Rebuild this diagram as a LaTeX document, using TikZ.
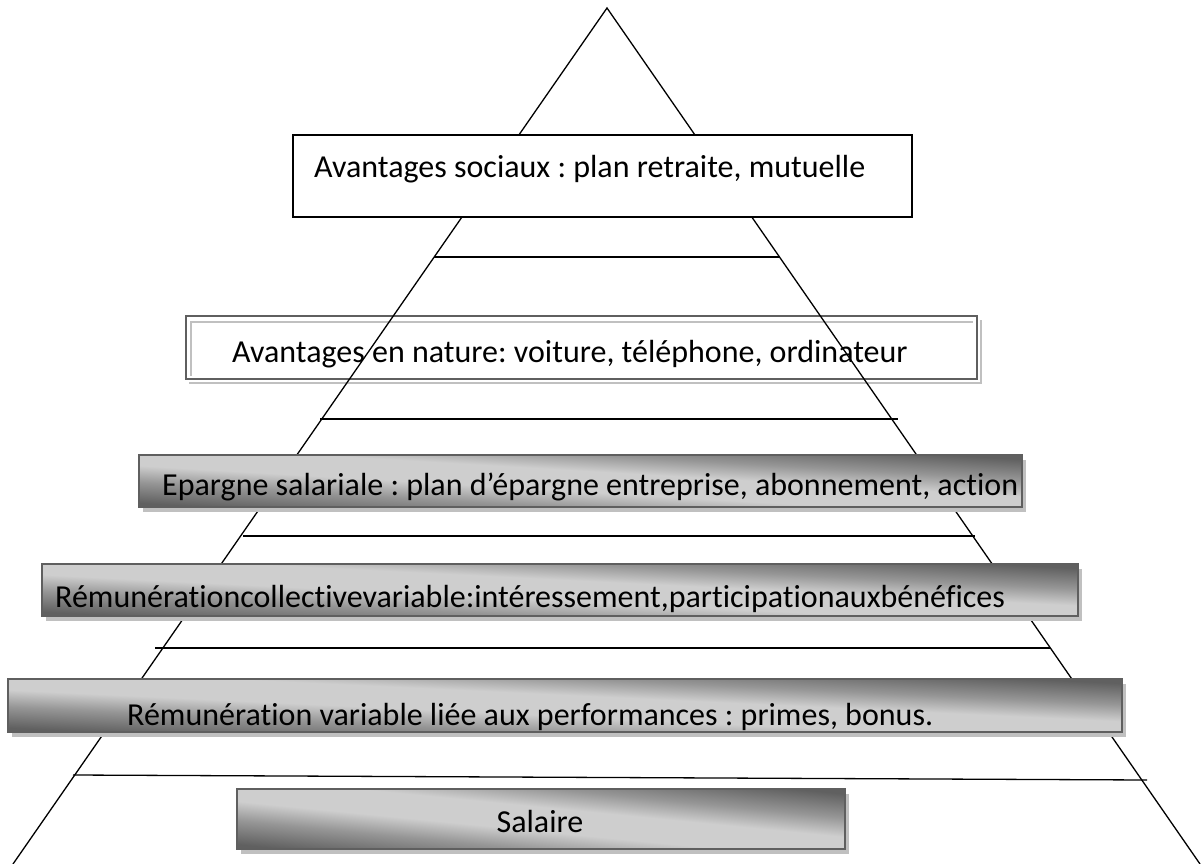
\documentclass[tikz,border=0pt]{standalone}
\usepackage{fontspec}
\setmainfont{Carlito}[Ligatures=NoCommon]
\definecolor{gdark}{RGB}{96,96,96}
\definecolor{gmid}{RGB}{150,150,150}
\definecolor{glight}{RGB}{206,206,206}
\definecolor{gedge}{RGB}{95,95,95}
\definecolor{gshade}{RGB}{192,192,192}
\pgfdeclareverticalshading{vgrad}{100bp}{color(0bp)=(gdark); color(27bp)=(gdark); color(37bp)=(gmid); color(45bp)=(glight); color(55bp)=(glight); color(63bp)=(gmid); color(73bp)=(gdark); color(100bp)=(gdark)}
\tikzset{
  side/.style={line width=1.3pt, black},
  rung/.style={line width=1.3pt, black},
  gframe/.style={draw=gedge, line width=2pt, inner sep=0pt, outer sep=0pt},
  wbox/.style={fill=white, draw=black, line width=1.3pt, anchor=north west, inner sep=0pt, outer sep=0pt},
  ebox/.style={fill=white, draw=gedge, line width=2pt, anchor=north west, inner sep=0pt, outer sep=0pt},
  lbl/.style={font=\fontsize{32}{38}\selectfont, inner sep=0pt, anchor=base west},
}
\newcommand{\gradbox}[5]{%
  \pgfmathsetmacro{\gw}{#4-#2}\pgfmathsetmacro{\gh}{#5-#3}%
  \pgfmathsetmacro{\gcx}{(#2+#4)/2}\pgfmathsetmacro{\gcy}{(#3+#5)/2}%
  \pgfmathsetmacro{\gs}{-\gh/\gw}%
  \fill[gshade] (#2+4,#3+5) rectangle (#4+4,#5+5);
  \begin{scope}
    \clip (#2,#3) rectangle (#4,#5);
    \shade[shading=vgrad, transform canvas={shift={(\gcx,\gcy)}, yslant=\gs}] (-\gw,-\gh) rectangle (\gw,\gh);
  \end{scope}
  \node[gframe, minimum width=\gw pt, minimum height=\gh pt] (#1) at (\gcx,\gcy) {};
}
\begin{document}
\frenchspacing
\begin{tikzpicture}[x=1pt, y=-1pt]
\useasboundingbox (0,0) rectangle (1202,864);
% embossed box (under the pyramid lines)
\draw[gshade, line width=1.6pt] (189,383) -- (981,383) -- (981,320);
\node[ebox, minimum width=791pt, minimum height=63pt] (b2) at (186,316) {};
\draw[gshade, line width=1.2pt] (191,376) -- (191,322) -- (973,322);
% pyramid
\coordinate (apex) at (607,8);
\coordinate (bl) at (13,864);
\coordinate (br) at (1200,864);
\draw[side] (bl) -- (apex) -- (br);
\coordinate (r1a) at (434,257); \coordinate (r1b) at (780,257);
\coordinate (r2a) at (320,419); \coordinate (r2b) at (898,419);
\coordinate (r3a) at (243,536); \coordinate (r3b) at (975,536);
\coordinate (r4a) at (155,648); \coordinate (r4b) at (1050,648);
\coordinate (r5a) at (73,775);  \coordinate (r5b) at (1147,780);
\draw[rung] (r1a) -- (r1b);
\draw[rung] (r2a) -- (r2b);
\draw[rung] (r3a) -- (r3b);
\draw[rung] (r4a) -- (r4b);
\draw[rung] (r5a) -- (r5b);
% boxes above the lines
\node[wbox, minimum width=619pt, minimum height=82pt] (b1) at (293,135) {};
\gradbox{b3}{139}{455}{1022}{507}
\gradbox{b4}{42}{564}{1078}{616}
\gradbox{b5}{8}{679}{1122}{732}
\gradbox{b6}{237}{789}{845}{849}
% texts
\node[lbl] (t1) at (314,178) {Avantages sociaux : plan retraite, mutuelle};
\node[lbl] (t2) at (232,362) {Avantages en nature: voiture, téléphone, ordinateur};
\node[lbl] (t3) at (162,495) {Epargne salariale : plan d’épargne entreprise, abonnement, action};
\node[lbl] (t4) at (55,607) {Rémunérationcollectivevariable:intéressement,participationauxbénéfices};
\node[lbl] (t5) at (127,725) {Rémunération variable liée aux performances : primes, bonus.};
\node[lbl, anchor=base] (t6) at (540,832) {Salaire};
\end{tikzpicture}
\end{document}
